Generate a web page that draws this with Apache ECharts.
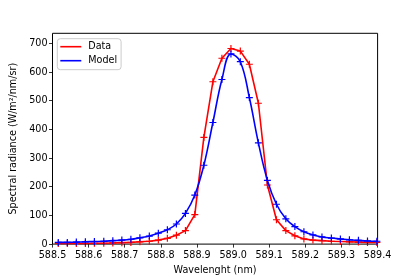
<!DOCTYPE html>
<html>
<head>
<meta charset="utf-8">
<script src="https://cdn.jsdelivr.net/npm/echarts@6/dist/echarts.min.js"></script>
<style>
html,body{margin:0;padding:0;background:#fff;}
#chart{width:420px;height:280px;}
</style>
</head>
<body>
<div id="chart"></div>
<script>
// Wavelength samples (nm)
var wavelengths = [588.516,588.541,588.566,588.591,588.616,588.642,588.667,588.692,588.717,588.742,
  588.768,588.793,588.818,588.843,588.868,588.894,588.919,588.944,588.969,588.994,
  589.020,589.045,589.070,589.095,589.120,589.146,589.171,589.196,589.221,589.246,
  589.272,589.297,589.322,589.347,589.372,589.398];
// Measured spectrum
var dataValues = [2,2,2,2,3,3,4,5,6,8,
  10,14,20,31,47,103,372,566,648,682,
  673,627,491,206,85,47,29,18,14,12,
  10,9,8,7,6,6];
// Model spectrum
var modelValues = [6,6,7,8,9,10,12,14,17,22,
  28,38,50,70,107,171,275,424,574,663,
  636,511,353,222,139,88,61,43,32,25,
  21,18,15,13,11,10];
var xTicks = [588.5,588.6,588.7,588.8,588.9,589.0,589.1,589.2,589.3,589.4];
var yTicks = [0,100,200,300,400,500,600,700];
var seriesNames = ['Data','Model'];

function pairs(xs, ys){ return xs.map(function(x,i){ return [x, ys[i]]; }); }

var FONT = 'DejaVu Sans';
var plus = 'path://M-0.17,-1H0.17V-0.17H1V0.17H0.17V1H-0.17V0.17H-1V-0.17H-0.17Z';

var chart = echarts.init(document.getElementById('chart'), null, {renderer:'canvas'});
chart.setOption({
  animation:false,
  backgroundColor:'#fff',
  grid:{left:52.5, right:42.4, top:33.3, bottom:35.6, show:true, borderColor:'#000', borderWidth:1, containLabel:false},
  legend:{
    orient:'vertical', left:57.3, top:38.7,
    backgroundColor:'#fff', borderColor:'#ccc', borderWidth:1, borderRadius:3,
    padding:[2,4,3,3], itemGap:2, itemWidth:21, itemHeight:1.6,
    textStyle:{fontFamily:FONT, fontSize:9.6, color:'#000', lineHeight:12, padding:[0,0,0,2]},
    data:[{name:seriesNames[0], icon:'rect'},{name:seriesNames[1], icon:'rect'}]
  },
  xAxis:{
    type:'value', min:588.5, max:589.4, interval:0.1,
    name:'Wavelenght (nm)', nameLocation:'middle', nameGap:19,
    nameTextStyle:{fontFamily:FONT, fontSize:9.6, color:'#000'},
    axisLine:{show:false},
    axisTick:{show:true, inside:false, length:3.5, lineStyle:{color:'#000', width:0.8}, customValues:xTicks},
    axisLabel:{fontFamily:FONT, fontSize:9.6, color:'#000', margin:6, customValues:xTicks,
      formatter:function(v){ return (+v).toFixed(1); }},
    splitLine:{show:false}
  },
  yAxis:{
    type:'value', min:0, max:735, interval:100,
    name:'Spectral radiance (W/m²/nm/sr)', nameLocation:'middle', nameGap:24,
    nameTextStyle:{fontFamily:FONT, fontSize:9.6, color:'#000'},
    axisLine:{show:false},
    axisTick:{show:true, inside:false, length:3.5, lineStyle:{color:'#000', width:0.8}, customValues:yTicks},
    axisLabel:{fontFamily:FONT, fontSize:9.6, color:'#000', margin:5, customValues:yTicks},
    splitLine:{show:false}
  },
  series:[
    {name:seriesNames[0], type:'line', data:pairs(wavelengths, dataValues),
      color:'#ff0000', lineStyle:{width:1.6, color:'#ff0000'},
      symbol:plus, symbolSize:7, showSymbol:true, itemStyle:{color:'#ff0000', borderWidth:0},
      z:2},
    {name:seriesNames[1], type:'line', data:pairs(wavelengths, modelValues), smooth:0.4,
      color:'#0000ff', lineStyle:{width:1.6, color:'#0000ff'},
      symbol:plus, symbolSize:7, showSymbol:true, itemStyle:{color:'#0000ff', borderWidth:0},
      z:3}
  ]
});
</script>
</body>
</html>
